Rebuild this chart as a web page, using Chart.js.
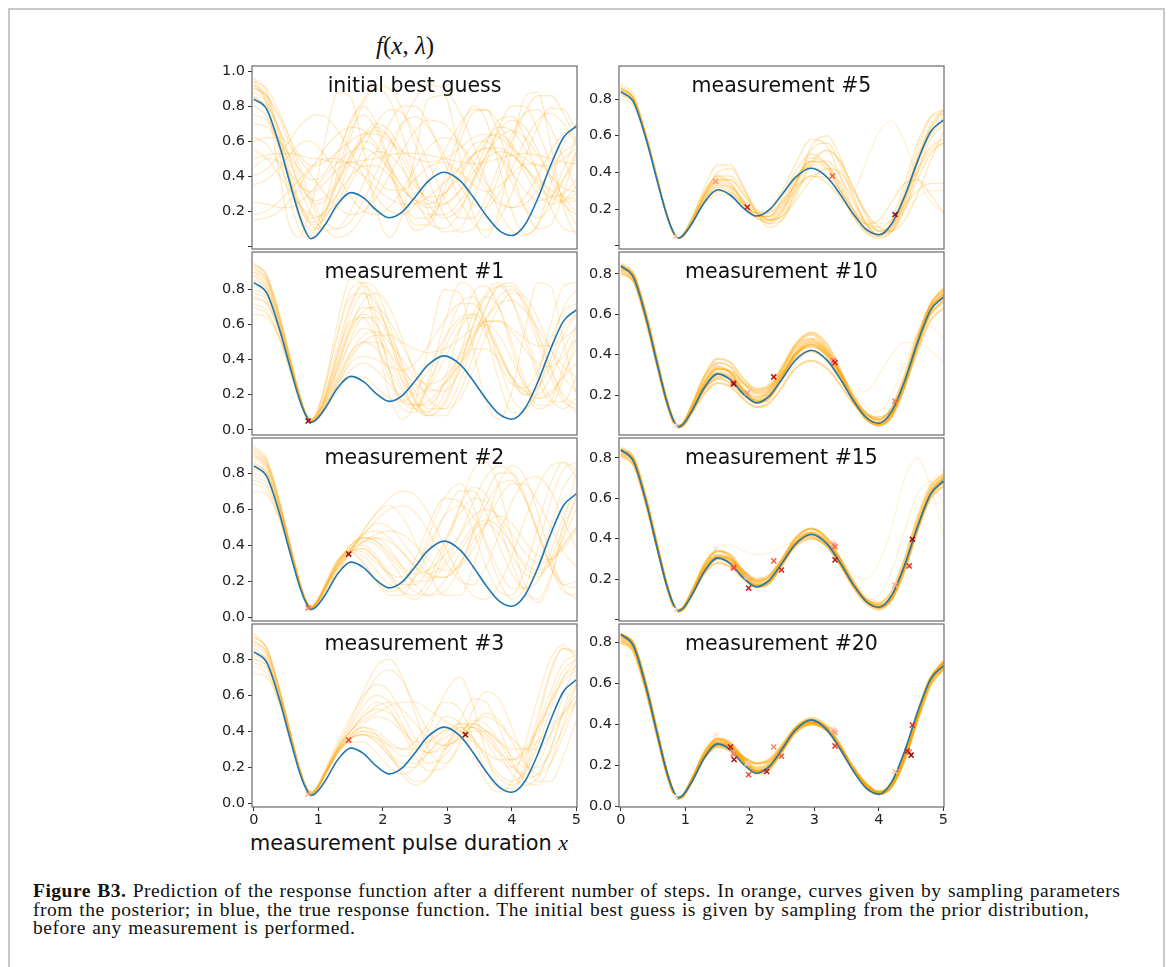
<!DOCTYPE html>
<html>
<head>
<meta charset="utf-8">
<script src="https://cdn.jsdelivr.net/npm/chart.js@4.4.1/dist/chart.umd.min.js"></script>
<style>
html, body { margin: 0; padding: 0; background: #fff; }
body { width: 1168px; height: 967px; overflow: hidden; position: relative; font-family: "DejaVu Sans", sans-serif; }
#frame { position: absolute; left: 8px; top: 8px; width: 1153px; height: 1000px; border: 2px solid #c8c8c8; border-bottom: none; }
canvas { position: absolute; }
.ptitle { position: absolute; width: 325px; text-align: center; font-size: 20.5px; line-height: 24px; color: #111; }
#ftitle { position: absolute; left: 376px; top: 31px; font-family: "Liberation Serif", serif; font-size: 25px; line-height: 30px; color: #111; }
#xlabel { position: absolute; left: 250px; top: 831px; font-size: 20.8px; line-height: 24px; color: #111; white-space: nowrap; }
#xlabel i { font-family: "Liberation Serif", serif; font-size: 22px; }
#caption { position: absolute; left: 33px; top: 882px; font-family: "Liberation Serif", serif; font-size: 19.5px; line-height: 18.7px; letter-spacing: 0.5px; word-spacing: 1px; color: #111; white-space: nowrap; }
</style>
</head>
<body>
<div id="frame"></div>
<div id="ftitle"><i>f</i>(<i>x</i>, <i>λ</i>)</div>
<div id="xlabel">measurement pulse duration <i>x</i></div>
<div id="caption"><b>Figure B3.</b> Prediction of the response function after a different number of steps. In orange, curves given by sampling parameters<br>from the posterior; in blue, the true response function. The initial best guess is given by sampling from the prior distribution,<br>before any measurement is performed.</div>

<script>
// x positions shared by every curve
const xGrid = [0, 0.2, 0.4, 0.55, 0.7, 0.8, 0.88, 0.96, 1.1, 1.3, 1.5, 1.7, 1.9, 2.1, 2.3, 2.5, 2.7, 2.95, 3.2, 3.4, 3.6, 3.8, 4.0, 4.2, 4.4, 4.6, 4.8, 5.0];

// true response function (blue)
const trueCurve = [0.84, 0.78, 0.57, 0.37, 0.18, 0.085, 0.042, 0.055, 0.12, 0.24, 0.305, 0.275, 0.205, 0.162, 0.195, 0.28, 0.37, 0.422, 0.372, 0.28, 0.175, 0.09, 0.06, 0.12, 0.27, 0.46, 0.62, 0.685];

// measurements in the order they were taken
const measX = [0.84, 1.47, 3.28, 1.96, 4.25, 3.30, 1.74, 3.32, 2.37, 1.75, 4.47, 2.49, 1.98, 3.32, 4.52, 4.44, 1.70, 2.26, 1.755, 4.50];
const measY = [0.05, 0.35, 0.38, 0.21, 0.17, 0.37, 0.26, 0.36, 0.29, 0.255, 0.265, 0.245, 0.155, 0.295, 0.397, 0.27, 0.29, 0.17, 0.229, 0.25];

const panelTitles = ['initial best guess', 'measurement #1', 'measurement #2', 'measurement #3',
                     'measurement #5', 'measurement #10', 'measurement #15', 'measurement #20'];
const panelCounts = [0, 1, 2, 3, 5, 10, 15, 20];

const xTicks = [0, 1, 2, 3, 4, 5];
const yTickValues = [
  [0, 0.2, 0.4, 0.6, 0.8, 1.0], [0, 0.2, 0.4, 0.6, 0.8], [0, 0.2, 0.4, 0.6, 0.8], [0, 0.2, 0.4, 0.6, 0.8],
  [0, 0.2, 0.4, 0.6, 0.8], [0.2, 0.4, 0.6, 0.8], [0, 0.2, 0.4, 0.6, 0.8], [0, 0.2, 0.4, 0.6, 0.8]
];
const yTickLabels = [
  ['', '0.2', '0.4', '0.6', '0.8', '1.0'], ['0.0', '0.2', '0.4', '0.6', '0.8'], ['0.0', '0.2', '0.4', '0.6', '0.8'], ['0.0', '0.2', '0.4', '0.6', '0.8'],
  ['', '0.2', '0.4', '0.6', '0.8'], ['0.2', '0.4', '0.6', '0.8'], ['', '0.2', '0.4', '0.6', '0.8'], ['0.0', '0.2', '0.4', '0.6', '0.8']
];

// sampled curves (orange), one list per panel
const samplesPrior = [
  [0.92,0.84,0.60,0.38,0.16,0.07,0.05,0.07,0.18,0.42,0.66,0.75,0.66,0.45,0.22,0.09,0.13,0.38,0.66,0.80,0.72,0.46,0.20,0.07,0.12,0.35,0.58,0.70],
  [0.88,0.82,0.66,0.50,0.34,0.25,0.19,0.14,0.09,0.10,0.20,0.36,0.54,0.70,0.80,0.80,0.70,0.48,0.26,0.13,0.09,0.15,0.30,0.50,0.68,0.79,0.78,0.66],
  [0.50,0.52,0.53,0.53,0.52,0.51,0.50,0.50,0.49,0.48,0.48,0.49,0.50,0.52,0.53,0.53,0.52,0.50,0.48,0.47,0.48,0.50,0.52,0.53,0.52,0.50,0.48,0.47],
  [0.18,0.20,0.26,0.32,0.38,0.42,0.45,0.47,0.50,0.50,0.46,0.40,0.33,0.27,0.24,0.24,0.28,0.36,0.45,0.52,0.56,0.56,0.52,0.45,0.38,0.32,0.28,0.27],
  [0.95,0.80,0.40,0.12,0.05,0.12,0.22,0.34,0.60,0.88,0.85,0.55,0.20,0.05,0.18,0.52,0.84,0.86,0.50,0.18,0.05,0.20,0.55,0.85,0.88,0.58,0.22,0.06],
  [0.75,0.72,0.60,0.48,0.36,0.30,0.27,0.26,0.28,0.38,0.52,0.64,0.70,0.66,0.54,0.38,0.24,0.16,0.22,0.36,0.52,0.66,0.72,0.68,0.55,0.38,0.24,0.18],
  [0.85,0.80,0.66,0.52,0.38,0.30,0.26,0.24,0.26,0.36,0.50,0.62,0.66,0.62,0.50,0.36,0.26,0.24,0.32,0.46,0.60,0.68,0.66,0.56,0.42,0.30,0.26,0.30],
  [0.90,0.86,0.72,0.58,0.42,0.32,0.25,0.19,0.10,0.05,0.08,0.18,0.34,0.52,0.70,0.84,0.92,0.90,0.76,0.58,0.38,0.20,0.09,0.06,0.12,0.26,0.44,0.62],
  [0.35,0.38,0.45,0.52,0.58,0.60,0.60,0.58,0.52,0.40,0.28,0.20,0.18,0.22,0.32,0.45,0.56,0.62,0.58,0.48,0.36,0.26,0.22,0.24,0.32,0.44,0.54,0.58],
  [0.62,0.58,0.46,0.34,0.22,0.16,0.13,0.12,0.16,0.30,0.48,0.62,0.68,0.62,0.46,0.28,0.14,0.10,0.20,0.38,0.58,0.72,0.74,0.62,0.42,0.22,0.10,0.08],
  [0.93,0.86,0.64,0.44,0.26,0.18,0.14,0.14,0.20,0.36,0.52,0.60,0.56,0.42,0.26,0.16,0.16,0.28,0.46,0.58,0.60,0.52,0.36,0.22,0.16,0.22,0.38,0.54],
  [0.45,0.50,0.48,0.42,0.35,0.32,0.31,0.32,0.36,0.44,0.48,0.45,0.38,0.32,0.32,0.38,0.45,0.48,0.42,0.35,0.31,0.34,0.41,0.47,0.47,0.40,0.33,0.31],
  [0.80,0.74,0.56,0.40,0.24,0.16,0.12,0.10,0.12,0.22,0.36,0.48,0.54,0.52,0.44,0.34,0.28,0.30,0.40,0.52,0.62,0.64,0.58,0.46,0.34,0.28,0.30,0.38],
  [0.70,0.68,0.60,0.52,0.44,0.40,0.38,0.38,0.42,0.54,0.70,0.84,0.92,0.90,0.78,0.58,0.38,0.18,0.08,0.10,0.22,0.40,0.60,0.76,0.86,0.86,0.76,0.60],
  [0.25,0.24,0.22,0.22,0.25,0.28,0.31,0.34,0.40,0.48,0.54,0.56,0.52,0.44,0.34,0.26,0.22,0.24,0.32,0.42,0.50,0.54,0.52,0.45,0.36,0.28,0.25,0.26],
  [0.96,0.88,0.62,0.40,0.20,0.12,0.09,0.10,0.18,0.38,0.62,0.82,0.90,0.84,0.64,0.40,0.20,0.08,0.10,0.26,0.48,0.68,0.80,0.80,0.66,0.46,0.26,0.12],
  [0.60,0.62,0.62,0.58,0.50,0.45,0.41,0.37,0.30,0.22,0.18,0.20,0.28,0.40,0.54,0.66,0.72,0.70,0.58,0.44,0.32,0.24,0.22,0.28,0.40,0.54,0.64,0.68],
  [0.92,0.82,0.52,0.28,0.10,0.05,0.06,0.10,0.24,0.50,0.72,0.80,0.70,0.48,0.26,0.12,0.12,0.32,0.60,0.76,0.78,0.64,0.42,0.22,0.10,0.12,0.30,0.54],
  [0.40,0.44,0.52,0.60,0.68,0.72,0.74,0.75,0.74,0.66,0.54,0.40,0.28,0.20,0.18,0.24,0.36,0.54,0.70,0.78,0.78,0.70,0.56,0.42,0.30,0.24,0.26,0.34],
  [0.86,0.78,0.56,0.38,0.24,0.18,0.16,0.16,0.20,0.30,0.40,0.46,0.46,0.40,0.32,0.26,0.24,0.30,0.42,0.52,0.56,0.52,0.42,0.32,0.26,0.28,0.38,0.50],
  [0.94,0.90,0.76,0.62,0.46,0.36,0.28,0.22,0.14,0.10,0.14,0.26,0.42,0.58,0.70,0.74,0.68,0.52,0.34,0.24,0.22,0.30,0.44,0.60,0.72,0.76,0.70,0.58],
  [0.55,0.50,0.40,0.32,0.24,0.20,0.18,0.17,0.18,0.26,0.40,0.56,0.70,0.78,0.76,0.64,0.48,0.28,0.16,0.16,0.28,0.46,0.64,0.76,0.78,0.68,0.50,0.32],
  [0.90,0.86,0.74,0.62,0.52,0.48,0.46,0.46,0.48,0.54,0.60,0.64,0.64,0.60,0.54,0.50,0.48,0.50,0.56,0.62,0.64,0.62,0.56,0.50,0.46,0.46,0.50,0.56],
  [0.15,0.16,0.20,0.26,0.34,0.40,0.44,0.48,0.56,0.64,0.68,0.66,0.58,0.46,0.34,0.24,0.18,0.18,0.26,0.38,0.52,0.62,0.66,0.62,0.52,0.40,0.28,0.20]
];

const samplesM1 = [
  [0.92,0.86,0.64,0.42,0.20,0.09,0.05,0.07,0.20,0.48,0.72,0.82,0.74,0.52,0.28,0.12,0.10,0.28,0.58,0.78,0.82,0.70,0.46,0.24,0.12,0.16,0.36,0.58],
  [0.84,0.78,0.58,0.38,0.19,0.09,0.05,0.06,0.14,0.30,0.44,0.50,0.46,0.34,0.22,0.14,0.14,0.26,0.44,0.56,0.60,0.54,0.40,0.26,0.18,0.20,0.32,0.46],
  [0.95,0.88,0.64,0.42,0.20,0.09,0.05,0.08,0.24,0.56,0.80,0.84,0.64,0.34,0.12,0.10,0.28,0.60,0.84,0.80,0.56,0.28,0.10,0.10,0.30,0.60,0.82,0.84],
  [0.72,0.68,0.52,0.34,0.17,0.08,0.05,0.06,0.12,0.24,0.34,0.38,0.34,0.26,0.18,0.14,0.16,0.26,0.38,0.46,0.46,0.40,0.30,0.22,0.18,0.22,0.30,0.38],
  [0.90,0.84,0.62,0.42,0.21,0.10,0.06,0.08,0.18,0.40,0.60,0.70,0.68,0.56,0.38,0.22,0.12,0.12,0.28,0.50,0.70,0.82,0.82,0.70,0.50,0.30,0.16,0.12],
  [0.80,0.76,0.58,0.40,0.20,0.09,0.05,0.07,0.18,0.42,0.66,0.78,0.72,0.54,0.32,0.16,0.10,0.20,0.44,0.66,0.76,0.70,0.50,0.28,0.14,0.14,0.30,0.52],
  [0.88,0.80,0.58,0.38,0.18,0.08,0.04,0.05,0.11,0.22,0.30,0.30,0.24,0.18,0.16,0.22,0.34,0.52,0.64,0.66,0.58,0.44,0.30,0.22,0.24,0.36,0.54,0.66],
  [0.66,0.64,0.52,0.36,0.19,0.09,0.05,0.07,0.16,0.36,0.56,0.68,0.70,0.62,0.48,0.34,0.24,0.22,0.34,0.52,0.70,0.82,0.84,0.74,0.56,0.36,0.20,0.14],
  [0.93,0.86,0.62,0.40,0.20,0.10,0.06,0.09,0.26,0.62,0.86,0.82,0.52,0.20,0.06,0.16,0.46,0.80,0.78,0.46,0.16,0.06,0.22,0.56,0.84,0.82,0.50,0.20],
  [0.78,0.74,0.56,0.38,0.19,0.09,0.05,0.06,0.13,0.28,0.44,0.54,0.56,0.50,0.40,0.30,0.26,0.30,0.42,0.54,0.62,0.62,0.56,0.46,0.38,0.36,0.42,0.52],
  [0.86,0.80,0.60,0.40,0.20,0.09,0.05,0.07,0.16,0.34,0.50,0.58,0.54,0.40,0.24,0.12,0.08,0.16,0.38,0.60,0.76,0.82,0.74,0.56,0.34,0.18,0.12,0.18],
  [0.94,0.88,0.66,0.44,0.22,0.10,0.06,0.08,0.20,0.44,0.62,0.64,0.50,0.30,0.16,0.14,0.26,0.46,0.62,0.64,0.54,0.38,0.26,0.24,0.34,0.52,0.68,0.72],
  [0.75,0.72,0.56,0.38,0.19,0.09,0.05,0.06,0.14,0.32,0.52,0.64,0.64,0.52,0.34,0.18,0.08,0.08,0.22,0.42,0.62,0.76,0.80,0.72,0.54,0.34,0.18,0.10],
  [0.90,0.82,0.60,0.39,0.19,0.09,0.05,0.06,0.12,0.26,0.38,0.42,0.40,0.36,0.34,0.38,0.48,0.62,0.72,0.72,0.62,0.46,0.30,0.20,0.20,0.30,0.46,0.60],
  [0.91,0.85,0.63,0.42,0.20,0.09,0.05,0.07,0.17,0.38,0.58,0.66,0.60,0.44,0.28,0.20,0.24,0.40,0.58,0.66,0.60,0.44,0.28,0.20,0.24,0.40,0.58,0.66],
  [0.82,0.78,0.58,0.39,0.19,0.09,0.05,0.07,0.18,0.44,0.70,0.84,0.80,0.60,0.36,0.16,0.08,0.14,0.36,0.60,0.78,0.84,0.74,0.52,0.30,0.16,0.16,0.30],
  [0.70,0.66,0.52,0.36,0.18,0.09,0.05,0.06,0.12,0.26,0.40,0.50,0.54,0.54,0.50,0.46,0.44,0.46,0.52,0.58,0.62,0.62,0.58,0.52,0.48,0.48,0.52,0.58],
  [0.95,0.88,0.64,0.42,0.21,0.10,0.06,0.09,0.24,0.54,0.76,0.78,0.60,0.34,0.16,0.12,0.24,0.50,0.72,0.76,0.62,0.38,0.18,0.12,0.22,0.46,0.70,0.80],
  [0.88,0.82,0.61,0.40,0.20,0.09,0.05,0.06,0.13,0.28,0.42,0.50,0.50,0.44,0.34,0.26,0.22,0.26,0.38,0.52,0.64,0.72,0.74,0.68,0.58,0.46,0.36,0.30],
  [0.76,0.72,0.55,0.37,0.18,0.08,0.04,0.06,0.15,0.36,0.58,0.74,0.78,0.70,0.52,0.32,0.18,0.12,0.18,0.34,0.54,0.70,0.78,0.76,0.64,0.46,0.30,0.22]
];

const samplesM2 = [
  [0.90,0.84,0.62,0.41,0.20,0.09,0.05,0.07,0.16,0.28,0.36,0.38,0.32,0.22,0.14,0.12,0.20,0.40,0.62,0.72,0.68,0.52,0.30,0.14,0.10,0.22,0.46,0.68],
  [0.84,0.80,0.60,0.40,0.20,0.09,0.05,0.06,0.12,0.24,0.36,0.46,0.52,0.50,0.42,0.32,0.24,0.22,0.30,0.46,0.62,0.74,0.76,0.66,0.48,0.30,0.18,0.16],
  [0.94,0.86,0.62,0.41,0.20,0.10,0.06,0.08,0.17,0.30,0.38,0.40,0.34,0.24,0.14,0.10,0.16,0.36,0.62,0.82,0.86,0.72,0.44,0.18,0.08,0.20,0.52,0.80],
  [0.76,0.72,0.56,0.38,0.19,0.09,0.05,0.07,0.16,0.30,0.40,0.44,0.42,0.34,0.26,0.20,0.20,0.28,0.40,0.50,0.54,0.50,0.40,0.30,0.26,0.30,0.40,0.50],
  [0.88,0.82,0.60,0.40,0.20,0.09,0.05,0.07,0.14,0.26,0.37,0.48,0.58,0.62,0.56,0.42,0.26,0.12,0.12,0.28,0.52,0.74,0.84,0.78,0.58,0.34,0.16,0.10],
  [0.82,0.78,0.58,0.39,0.19,0.09,0.05,0.07,0.16,0.30,0.36,0.34,0.26,0.18,0.16,0.22,0.36,0.56,0.70,0.70,0.58,0.40,0.24,0.16,0.20,0.36,0.56,0.70],
  [0.92,0.86,0.64,0.42,0.21,0.10,0.06,0.08,0.18,0.31,0.37,0.36,0.30,0.24,0.22,0.28,0.40,0.56,0.62,0.56,0.42,0.26,0.16,0.16,0.28,0.50,0.72,0.82],
  [0.70,0.68,0.54,0.37,0.19,0.09,0.05,0.07,0.15,0.28,0.38,0.44,0.44,0.38,0.28,0.18,0.12,0.14,0.28,0.48,0.68,0.80,0.80,0.68,0.48,0.28,0.14,0.12],
  [0.90,0.84,0.62,0.41,0.20,0.09,0.05,0.07,0.15,0.28,0.38,0.42,0.40,0.32,0.22,0.14,0.12,0.20,0.36,0.48,0.52,0.46,0.34,0.24,0.22,0.32,0.50,0.66],
  [0.86,0.80,0.60,0.40,0.20,0.09,0.05,0.06,0.13,0.25,0.37,0.48,0.58,0.66,0.70,0.68,0.58,0.40,0.22,0.12,0.10,0.18,0.34,0.54,0.72,0.84,0.86,0.78],
  [0.95,0.88,0.64,0.42,0.21,0.10,0.06,0.08,0.18,0.32,0.36,0.30,0.20,0.14,0.18,0.32,0.50,0.66,0.64,0.48,0.28,0.14,0.12,0.26,0.50,0.74,0.86,0.82],
  [0.80,0.76,0.58,0.39,0.19,0.09,0.05,0.07,0.16,0.30,0.40,0.44,0.42,0.36,0.28,0.24,0.26,0.34,0.46,0.56,0.60,0.56,0.46,0.36,0.30,0.32,0.40,0.50],
  [0.89,0.83,0.61,0.40,0.20,0.09,0.05,0.07,0.15,0.27,0.36,0.42,0.46,0.48,0.46,0.40,0.32,0.26,0.28,0.38,0.52,0.66,0.74,0.74,0.64,0.50,0.36,0.28],
  [0.78,0.74,0.56,0.38,0.19,0.09,0.05,0.07,0.17,0.32,0.36,0.30,0.20,0.12,0.12,0.24,0.44,0.66,0.74,0.62,0.40,0.20,0.10,0.16,0.38,0.64,0.82,0.86],
  [0.93,0.87,0.64,0.42,0.21,0.10,0.06,0.08,0.16,0.28,0.36,0.42,0.44,0.42,0.36,0.28,0.22,0.22,0.30,0.42,0.52,0.56,0.52,0.42,0.34,0.32,0.38,0.48],
  [0.85,0.80,0.60,0.40,0.20,0.09,0.05,0.07,0.16,0.29,0.38,0.46,0.54,0.60,0.62,0.58,0.48,0.32,0.20,0.18,0.28,0.46,0.64,0.76,0.78,0.70,0.54,0.38],
  [0.74,0.70,0.54,0.37,0.19,0.09,0.05,0.07,0.16,0.30,0.37,0.38,0.32,0.24,0.18,0.18,0.26,0.42,0.58,0.66,0.64,0.54,0.40,0.28,0.24,0.30,0.44,0.60],
  [0.91,0.85,0.63,0.41,0.20,0.10,0.06,0.08,0.17,0.31,0.40,0.46,0.48,0.44,0.36,0.28,0.24,0.30,0.46,0.64,0.78,0.84,0.80,0.66,0.46,0.28,0.18,0.20]
];

const samplesM3 = [
  [0.90,0.84,0.62,0.41,0.20,0.09,0.05,0.07,0.16,0.28,0.36,0.40,0.36,0.28,0.22,0.22,0.28,0.36,0.40,0.36,0.26,0.16,0.12,0.18,0.36,0.58,0.74,0.80],
  [0.86,0.80,0.60,0.40,0.20,0.09,0.05,0.07,0.16,0.30,0.40,0.50,0.56,0.52,0.40,0.26,0.18,0.20,0.32,0.44,0.50,0.46,0.34,0.22,0.16,0.22,0.38,0.56],
  [0.94,0.86,0.62,0.41,0.20,0.10,0.06,0.08,0.18,0.32,0.40,0.46,0.50,0.54,0.56,0.56,0.52,0.46,0.40,0.34,0.28,0.24,0.24,0.30,0.42,0.56,0.68,0.74],
  [0.78,0.74,0.56,0.38,0.19,0.09,0.05,0.07,0.15,0.28,0.38,0.42,0.38,0.28,0.16,0.10,0.14,0.30,0.42,0.42,0.34,0.24,0.20,0.26,0.42,0.62,0.78,0.82],
  [0.88,0.82,0.60,0.40,0.20,0.09,0.05,0.07,0.17,0.32,0.46,0.62,0.76,0.80,0.70,0.50,0.30,0.22,0.34,0.52,0.62,0.58,0.42,0.24,0.12,0.12,0.26,0.46],
  [0.92,0.86,0.63,0.42,0.21,0.10,0.06,0.08,0.16,0.28,0.34,0.34,0.28,0.20,0.16,0.20,0.32,0.48,0.44,0.28,0.12,0.06,0.12,0.32,0.58,0.80,0.88,0.80],
  [0.82,0.78,0.58,0.39,0.19,0.09,0.05,0.07,0.15,0.28,0.36,0.38,0.34,0.26,0.20,0.20,0.28,0.38,0.44,0.44,0.40,0.34,0.30,0.30,0.34,0.42,0.50,0.56],
  [0.72,0.70,0.55,0.37,0.19,0.09,0.05,0.07,0.16,0.30,0.40,0.48,0.54,0.56,0.52,0.44,0.36,0.32,0.36,0.40,0.40,0.34,0.26,0.20,0.20,0.28,0.42,0.58],
  [0.93,0.86,0.62,0.41,0.20,0.10,0.06,0.08,0.17,0.30,0.37,0.40,0.38,0.32,0.26,0.28,0.40,0.60,0.70,0.54,0.28,0.10,0.06,0.18,0.44,0.72,0.86,0.82],
  [0.84,0.80,0.60,0.40,0.20,0.09,0.05,0.07,0.16,0.30,0.42,0.54,0.60,0.56,0.44,0.30,0.22,0.26,0.38,0.46,0.44,0.34,0.22,0.14,0.16,0.30,0.52,0.72],
  [0.90,0.84,0.62,0.41,0.20,0.09,0.05,0.07,0.16,0.29,0.36,0.38,0.34,0.26,0.18,0.12,0.14,0.28,0.46,0.58,0.56,0.42,0.24,0.12,0.10,0.22,0.44,0.66],
  [0.80,0.76,0.57,0.39,0.19,0.09,0.05,0.07,0.16,0.31,0.44,0.58,0.70,0.74,0.68,0.54,0.40,0.32,0.36,0.44,0.48,0.44,0.36,0.30,0.30,0.38,0.50,0.60],
  [0.89,0.83,0.61,0.40,0.20,0.09,0.05,0.07,0.16,0.30,0.40,0.48,0.52,0.50,0.42,0.32,0.28,0.32,0.40,0.44,0.40,0.30,0.20,0.16,0.22,0.38,0.60,0.78],
  [0.76,0.72,0.55,0.37,0.19,0.09,0.05,0.07,0.16,0.30,0.38,0.42,0.40,0.34,0.30,0.30,0.34,0.40,0.42,0.36,0.24,0.14,0.10,0.16,0.32,0.52,0.70,0.80],
  [0.92,0.86,0.63,0.41,0.20,0.10,0.06,0.08,0.18,0.34,0.48,0.60,0.66,0.62,0.50,0.36,0.28,0.30,0.38,0.42,0.38,0.28,0.16,0.10,0.14,0.30,0.50,0.66],
  [0.84,0.79,0.59,0.39,0.19,0.09,0.05,0.07,0.16,0.29,0.36,0.38,0.36,0.32,0.30,0.34,0.44,0.56,0.52,0.36,0.18,0.08,0.08,0.22,0.48,0.74,0.86,0.84],
  [0.80,0.76,0.57,0.38,0.19,0.09,0.05,0.07,0.15,0.28,0.37,0.44,0.48,0.46,0.40,0.34,0.34,0.40,0.44,0.42,0.36,0.28,0.24,0.28,0.40,0.56,0.70,0.76]
];

const samplesM5 = [
  [0.86,0.80,0.58,0.38,0.18,0.08,0.04,0.05,0.13,0.26,0.32,0.30,0.22,0.16,0.18,0.28,0.38,0.43,0.38,0.28,0.17,0.09,0.06,0.10,0.24,0.44,0.60,0.68],
  [0.82,0.78,0.58,0.38,0.18,0.08,0.04,0.06,0.15,0.30,0.38,0.34,0.24,0.16,0.16,0.26,0.40,0.50,0.44,0.30,0.16,0.07,0.05,0.12,0.28,0.48,0.64,0.72],
  [0.88,0.82,0.60,0.39,0.18,0.08,0.04,0.05,0.12,0.24,0.30,0.28,0.21,0.15,0.14,0.20,0.30,0.38,0.37,0.30,0.20,0.12,0.08,0.12,0.26,0.42,0.54,0.58],
  [0.80,0.76,0.56,0.37,0.18,0.08,0.04,0.06,0.15,0.32,0.44,0.44,0.32,0.18,0.10,0.14,0.30,0.52,0.56,0.44,0.26,0.12,0.06,0.10,0.26,0.46,0.62,0.70],
  [0.85,0.80,0.59,0.39,0.19,0.08,0.04,0.05,0.13,0.27,0.34,0.32,0.23,0.16,0.16,0.24,0.36,0.46,0.46,0.38,0.24,0.12,0.06,0.08,0.20,0.36,0.50,0.56],
  [0.84,0.78,0.57,0.37,0.17,0.07,0.04,0.05,0.12,0.25,0.33,0.32,0.25,0.18,0.14,0.16,0.24,0.36,0.42,0.40,0.30,0.18,0.10,0.08,0.14,0.28,0.46,0.62],
  [0.87,0.80,0.58,0.38,0.18,0.08,0.04,0.06,0.14,0.28,0.36,0.36,0.28,0.18,0.12,0.14,0.26,0.44,0.52,0.46,0.32,0.16,0.08,0.12,0.30,0.52,0.70,0.74],
  [0.83,0.78,0.58,0.38,0.18,0.08,0.04,0.05,0.12,0.24,0.30,0.29,0.23,0.18,0.20,0.30,0.44,0.58,0.54,0.38,0.20,0.08,0.04,0.08,0.22,0.40,0.52,0.56],
  [0.86,0.80,0.58,0.38,0.18,0.08,0.04,0.05,0.13,0.28,0.40,0.42,0.32,0.18,0.12,0.18,0.34,0.48,0.44,0.32,0.18,0.12,0.14,0.24,0.34,0.36,0.28,0.18],
  [0.85,0.80,0.59,0.39,0.18,0.08,0.04,0.06,0.14,0.29,0.37,0.34,0.24,0.15,0.13,0.20,0.34,0.46,0.42,0.30,0.16,0.08,0.06,0.14,0.34,0.56,0.70,0.72],
  [0.86,0.80,0.58,0.38,0.18,0.08,0.04,0.05,0.12,0.23,0.28,0.27,0.22,0.18,0.18,0.24,0.32,0.38,0.34,0.26,0.18,0.12,0.10,0.14,0.22,0.30,0.34,0.34],
  [0.85,0.80,0.58,0.38,0.18,0.08,0.04,0.05,0.13,0.27,0.35,0.33,0.24,0.17,0.16,0.22,0.34,0.46,0.44,0.34,0.20,0.10,0.06,0.10,0.26,0.48,0.66,0.74],
  [0.83,0.78,0.57,0.37,0.18,0.08,0.04,0.05,0.13,0.27,0.36,0.36,0.28,0.19,0.14,0.18,0.32,0.54,0.60,0.48,0.28,0.12,0.05,0.08,0.24,0.46,0.64,0.74],
  [0.84,0.79,0.58,0.38,0.18,0.08,0.04,0.06,0.14,0.29,0.38,0.38,0.30,0.20,0.14,0.16,0.28,0.46,0.52,0.46,0.32,0.18,0.08,0.08,0.20,0.40,0.58,0.66]
];
const faintM5 = [
  [0.84,0.79,0.58,0.38,0.18,0.08,0.04,0.05,0.13,0.26,0.33,0.31,0.23,0.16,0.15,0.22,0.34,0.44,0.42,0.34,0.30,0.46,0.62,0.68,0.56,0.38,0.24,0.18],
  [0.86,0.80,0.58,0.38,0.18,0.08,0.04,0.05,0.12,0.25,0.31,0.29,0.22,0.16,0.16,0.24,0.36,0.44,0.40,0.30,0.20,0.14,0.12,0.14,0.20,0.26,0.30,0.30]
];

const samplesM10 = [
  [0.84,0.79,0.58,0.38,0.18,0.08,0.04,0.05,0.13,0.25,0.31,0.29,0.22,0.17,0.20,0.30,0.40,0.45,0.39,0.29,0.17,0.09,0.06,0.11,0.26,0.46,0.62,0.69],
  [0.82,0.77,0.56,0.36,0.17,0.08,0.04,0.06,0.15,0.29,0.36,0.34,0.26,0.21,0.23,0.33,0.44,0.50,0.43,0.31,0.17,0.08,0.05,0.10,0.26,0.47,0.64,0.71],
  [0.84,0.79,0.59,0.39,0.19,0.09,0.05,0.05,0.11,0.21,0.26,0.24,0.18,0.14,0.16,0.24,0.33,0.37,0.33,0.25,0.16,0.10,0.08,0.13,0.28,0.46,0.60,0.66],
  [0.81,0.76,0.55,0.36,0.17,0.08,0.04,0.06,0.15,0.30,0.38,0.36,0.28,0.23,0.25,0.34,0.45,0.51,0.45,0.33,0.19,0.09,0.05,0.09,0.24,0.46,0.65,0.73],
  [0.84,0.79,0.58,0.38,0.18,0.08,0.04,0.05,0.12,0.23,0.28,0.26,0.20,0.18,0.21,0.30,0.38,0.42,0.37,0.28,0.18,0.11,0.09,0.13,0.25,0.42,0.57,0.63],
  [0.84,0.78,0.57,0.37,0.18,0.08,0.04,0.05,0.13,0.26,0.33,0.31,0.23,0.17,0.19,0.28,0.39,0.45,0.40,0.30,0.18,0.09,0.06,0.10,0.24,0.44,0.62,0.70],
  [0.83,0.78,0.57,0.37,0.18,0.08,0.04,0.05,0.12,0.24,0.30,0.28,0.21,0.16,0.19,0.29,0.40,0.46,0.41,0.31,0.19,0.11,0.08,0.14,0.30,0.50,0.64,0.68],
  [0.83,0.78,0.57,0.37,0.18,0.08,0.04,0.05,0.14,0.27,0.34,0.31,0.22,0.16,0.18,0.29,0.41,0.47,0.41,0.30,0.17,0.08,0.05,0.10,0.26,0.47,0.63,0.70],
  [0.80,0.76,0.56,0.37,0.18,0.08,0.04,0.05,0.13,0.26,0.33,0.32,0.26,0.22,0.24,0.31,0.40,0.44,0.40,0.31,0.20,0.11,0.07,0.11,0.25,0.44,0.60,0.67],
  [0.85,0.80,0.59,0.39,0.19,0.09,0.05,0.05,0.12,0.23,0.29,0.28,0.22,0.19,0.22,0.32,0.43,0.48,0.42,0.31,0.18,0.09,0.06,0.11,0.27,0.48,0.65,0.72]
];
const faintM10 = [
  [0.83,0.78,0.57,0.37,0.18,0.08,0.04,0.05,0.13,0.25,0.31,0.30,0.24,0.20,0.22,0.29,0.37,0.41,0.37,0.30,0.22,0.22,0.30,0.40,0.46,0.46,0.42,0.36],
  [0.84,0.78,0.57,0.37,0.18,0.08,0.04,0.05,0.13,0.25,0.32,0.31,0.25,0.20,0.20,0.26,0.35,0.42,0.40,0.32,0.22,0.14,0.12,0.20,0.36,0.50,0.54,0.48]
];

const samplesM15 = [
  [0.84,0.79,0.58,0.38,0.18,0.08,0.04,0.05,0.13,0.25,0.31,0.29,0.22,0.17,0.19,0.28,0.38,0.43,0.38,0.28,0.17,0.09,0.06,0.11,0.26,0.46,0.62,0.69],
  [0.83,0.78,0.57,0.37,0.18,0.08,0.04,0.05,0.14,0.27,0.34,0.32,0.24,0.19,0.21,0.30,0.40,0.45,0.40,0.30,0.18,0.09,0.06,0.11,0.27,0.48,0.64,0.71],
  [0.84,0.79,0.58,0.38,0.18,0.08,0.04,0.05,0.12,0.23,0.28,0.26,0.20,0.16,0.18,0.27,0.36,0.40,0.36,0.27,0.17,0.10,0.07,0.12,0.27,0.45,0.60,0.66],
  [0.82,0.77,0.56,0.37,0.18,0.08,0.04,0.05,0.13,0.25,0.31,0.30,0.23,0.18,0.19,0.27,0.37,0.42,0.38,0.29,0.18,0.09,0.06,0.10,0.25,0.45,0.62,0.70],
  [0.85,0.80,0.59,0.39,0.19,0.09,0.05,0.05,0.12,0.24,0.30,0.28,0.21,0.16,0.18,0.28,0.38,0.43,0.38,0.28,0.16,0.08,0.05,0.10,0.26,0.46,0.62,0.68],
  [0.84,0.78,0.57,0.37,0.18,0.08,0.04,0.05,0.13,0.25,0.30,0.28,0.22,0.17,0.19,0.28,0.37,0.42,0.38,0.29,0.17,0.09,0.06,0.11,0.26,0.46,0.63,0.70],
  [0.81,0.76,0.56,0.37,0.18,0.08,0.04,0.06,0.14,0.28,0.34,0.31,0.23,0.19,0.21,0.29,0.38,0.41,0.36,0.27,0.17,0.10,0.08,0.14,0.30,0.50,0.66,0.72],
  [0.84,0.79,0.58,0.38,0.18,0.08,0.04,0.05,0.13,0.26,0.32,0.30,0.24,0.20,0.22,0.30,0.40,0.45,0.40,0.30,0.19,0.10,0.07,0.10,0.24,0.44,0.61,0.68]
];
const faintM15 = [
  [0.84,0.78,0.57,0.37,0.18,0.08,0.04,0.05,0.13,0.27,0.36,0.37,0.34,0.32,0.33,0.36,0.39,0.40,0.37,0.30,0.20,0.12,0.09,0.14,0.30,0.52,0.68,0.74],
  [0.84,0.78,0.57,0.37,0.18,0.08,0.04,0.05,0.13,0.25,0.31,0.29,0.22,0.17,0.19,0.28,0.38,0.42,0.38,0.30,0.22,0.20,0.28,0.46,0.70,0.80,0.66,0.42],
  [0.83,0.78,0.57,0.37,0.18,0.08,0.04,0.05,0.13,0.26,0.32,0.30,0.22,0.17,0.19,0.28,0.39,0.44,0.40,0.30,0.18,0.10,0.12,0.24,0.44,0.62,0.68,0.58]
];

const samplesM20 = [
  [0.84,0.79,0.58,0.38,0.18,0.08,0.04,0.05,0.13,0.25,0.31,0.29,0.22,0.17,0.19,0.28,0.37,0.41,0.38,0.29,0.18,0.10,0.06,0.10,0.24,0.44,0.61,0.69],
  [0.82,0.77,0.56,0.37,0.18,0.08,0.04,0.05,0.13,0.25,0.30,0.28,0.22,0.17,0.19,0.27,0.36,0.40,0.37,0.29,0.19,0.11,0.07,0.10,0.23,0.43,0.61,0.70],
  [0.84,0.79,0.58,0.38,0.18,0.08,0.04,0.05,0.13,0.26,0.32,0.30,0.23,0.18,0.20,0.28,0.38,0.42,0.38,0.29,0.18,0.10,0.06,0.10,0.25,0.45,0.62,0.70],
  [0.81,0.76,0.56,0.37,0.18,0.08,0.04,0.05,0.12,0.24,0.29,0.27,0.21,0.17,0.19,0.27,0.36,0.40,0.37,0.29,0.19,0.11,0.07,0.11,0.24,0.43,0.60,0.67],
  [0.84,0.78,0.57,0.37,0.18,0.08,0.04,0.05,0.13,0.25,0.31,0.29,0.23,0.19,0.21,0.29,0.38,0.42,0.38,0.29,0.18,0.10,0.06,0.10,0.24,0.44,0.62,0.71],
  [0.83,0.78,0.57,0.37,0.18,0.08,0.04,0.05,0.13,0.26,0.33,0.31,0.24,0.21,0.22,0.29,0.37,0.41,0.37,0.28,0.18,0.10,0.07,0.11,0.25,0.45,0.62,0.69],
  [0.84,0.79,0.58,0.38,0.18,0.08,0.04,0.05,0.13,0.25,0.30,0.28,0.22,0.17,0.19,0.28,0.38,0.43,0.39,0.30,0.18,0.09,0.06,0.10,0.24,0.44,0.61,0.68],
  [0.80,0.75,0.55,0.36,0.17,0.08,0.04,0.05,0.13,0.25,0.31,0.29,0.22,0.17,0.19,0.28,0.37,0.41,0.38,0.29,0.18,0.10,0.06,0.10,0.24,0.44,0.62,0.70],
  [0.83,0.78,0.57,0.37,0.18,0.08,0.04,0.05,0.13,0.27,0.33,0.30,0.22,0.16,0.18,0.27,0.37,0.41,0.37,0.28,0.18,0.10,0.07,0.12,0.26,0.46,0.63,0.70],
  [0.84,0.78,0.57,0.37,0.18,0.08,0.04,0.05,0.12,0.24,0.30,0.29,0.24,0.21,0.23,0.30,0.38,0.41,0.37,0.29,0.19,0.11,0.07,0.10,0.23,0.42,0.59,0.67]
];

const panelSamples = [samplesPrior, samplesM1, samplesM2, samplesM3, samplesM5, samplesM10, samplesM15, samplesM20];
const panelFaint = [[], [], [], [], faintM5, faintM10, faintM15, []];

/* layout of the 2 x 4 grid */
const plotLeft = [252, 619];
const plotTop = [66, 252, 438, 624];
const plotW = 325, plotH = 183;
const axisW = 52, padT = 12, padB = 12, padR = 10, xAxisH = 30;
const yRange = [
  [-0.017, 1.029], [-0.03, 1.015], [-0.022, 0.995], [-0.022, 0.995],
  [-0.018, 0.98], [0.002, 0.909], [-0.008, 0.899], [-0.003, 0.89]
];
const sampleAlpha = [0.24, 0.22, 0.22, 0.22, 0.26, 0.42, 0.45, 0.48];
const sampleWidth = [1.2, 1.2, 1.2, 1.2, 1.4, 2.0, 2.2, 2.4];

// matplotlib "Reds" colormap, used for the age of each measurement
const redStops = [[255,245,240],[254,224,210],[252,187,161],[252,146,114],[251,106,74],[239,59,44],[203,24,29],[165,15,21],[103,0,13]];
function reds(t) {
  const p = t * (redStops.length - 1);
  const i = Math.min(Math.floor(p), redStops.length - 2);
  const f = p - i;
  const c = redStops[i].map((v, k) => Math.round(v + (redStops[i + 1][k] - v) * f));
  return `rgb(${c[0]},${c[1]},${c[2]})`;
}

const framePlugin = {
  id: 'frame',
  afterDatasetsDraw(chart) {
    const {ctx, chartArea: a} = chart;
    ctx.save();
    ctx.strokeStyle = '#6a6a6a';
    ctx.lineWidth = 1.2;
    ctx.strokeRect(a.left, a.top, a.right - a.left, a.bottom - a.top);
    ctx.restore();
  }
};

const tickFont = {family: 'DejaVu Sans', size: 14.5};

function curveSet(curves, color, width) {
  return curves.map(curve => ({
    data: curve.map((y, i) => ({x: xGrid[i], y})),
    borderColor: color,
    borderWidth: width,
    pointRadius: 0,
    cubicInterpolationMode: 'monotone',
    order: 3
  }));
}

function makePanel(p) {
  const col = p < 4 ? 0 : 1;
  const row = p % 4;
  const bottom = row === 3;
  const w = axisW + plotW + padR;
  const h = padT + plotH + (bottom ? xAxisH : padB);

  const canvas = document.createElement('canvas');
  canvas.width = w;
  canvas.height = h;
  canvas.style.left = (plotLeft[col] - axisW) + 'px';
  canvas.style.top = (plotTop[row] - padT) + 'px';
  document.body.appendChild(canvas);

  const title = document.createElement('div');
  title.className = 'ptitle';
  title.textContent = panelTitles[p];
  title.style.left = plotLeft[col] + 'px';
  title.style.top = (plotTop[row] + 7) + 'px';
  document.body.appendChild(title);

  const datasets = [
    ...curveSet(panelFaint[p], 'rgba(255,165,0,0.16)', 1.2),
    ...curveSet(panelSamples[p], `rgba(255,165,0,${sampleAlpha[p]})`, sampleWidth[p])
  ];
  datasets.push({
    data: trueCurve.map((y, i) => ({x: xGrid[i], y})),
    borderColor: '#1f77b4',
    borderWidth: 1.6,
    pointRadius: 0,
    cubicInterpolationMode: 'monotone',
    order: 2
  });
  const n = panelCounts[p];
  if (n > 0) {
    const colors = measX.slice(0, n).map((_, k) => reds(0.9 * (k + 1) / n));
    datasets.push({
      data: measX.slice(0, n).map((x, k) => ({x, y: measY[k]})),
      showLine: false,
      pointStyle: 'crossRot',
      pointRadius: 3.6,
      pointBorderWidth: 1.5,
      pointBorderColor: colors,
      pointBackgroundColor: colors,
      order: 1
    });
  }

  new Chart(canvas, {
    type: 'line',
    data: {datasets},
    plugins: [framePlugin],
    options: {
      responsive: false,
      animation: false,
      events: [],
      layout: {padding: {top: padT, right: padR, bottom: bottom ? 0 : padB, left: 0}},
      plugins: {legend: {display: false}, tooltip: {enabled: false}},
      scales: {
        x: {
          type: 'linear',
          min: -0.03,
          max: 5.01,
          display: bottom,
          afterBuildTicks: s => { s.ticks = xTicks.map(v => ({value: v})); },
          afterFit: s => { if (bottom) s.height = xAxisH; },
          ticks: {
            color: '#222',
            font: tickFont,
            padding: 1,
            maxRotation: 0,
            callback: v => String(v)
          },
          grid: {drawOnChartArea: false, drawTicks: true, tickLength: 4, color: '#333'},
          border: {display: false}
        },
        y: {
          min: yRange[p][0],
          max: yRange[p][1],
          afterBuildTicks: s => { s.ticks = yTickValues[p].map(v => ({value: v})); },
          afterFit: s => { s.width = axisW; },
          ticks: {
            color: '#222',
            font: tickFont,
            padding: 3,
            callback: (v, i) => yTickLabels[p][i]
          },
          grid: {drawOnChartArea: false, drawTicks: true, tickLength: 4, color: '#333'},
          border: {display: false}
        }
      }
    }
  });
}

for (let p = 0; p < 8; p++) makePanel(p);
</script>
</body>
</html>
